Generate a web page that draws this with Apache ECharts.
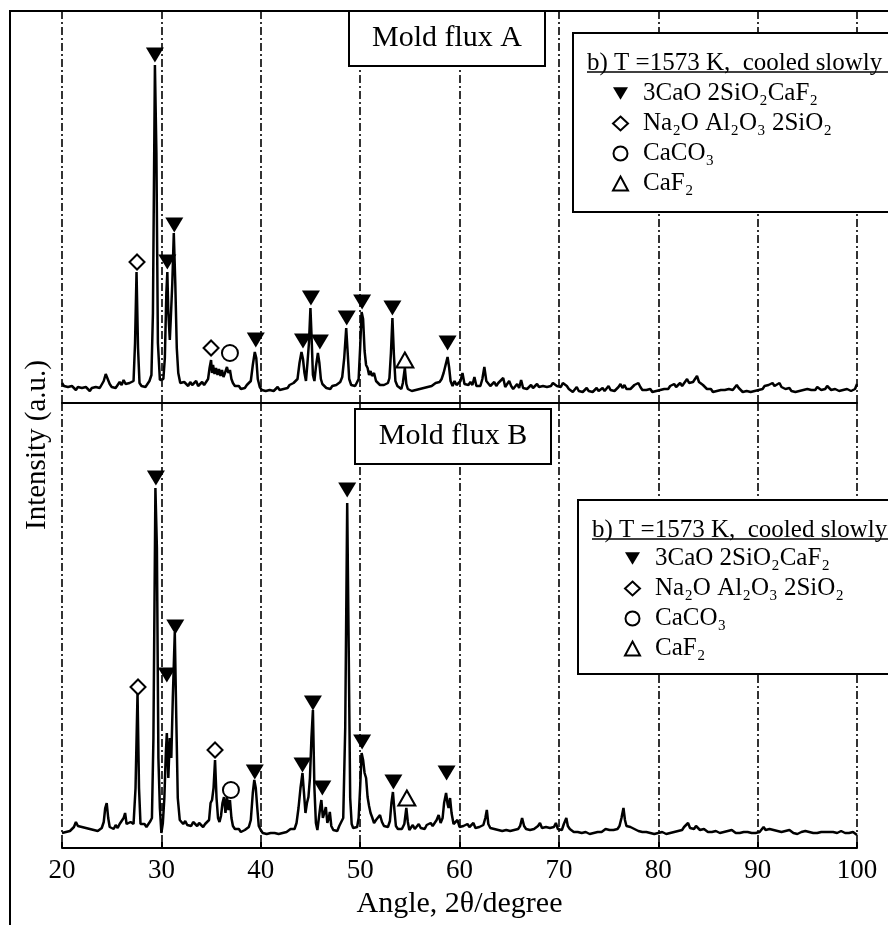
<!DOCTYPE html>
<html>
<head>
<meta charset="utf-8">
<title>XRD mold flux A / B</title>
<script src="https://cdn.jsdelivr.net/npm/echarts@6/dist/echarts.min.js"></script>
<style>
  html, body { margin: 0; padding: 0; background: #fff; }
  #chart { width: 888px; height: 925px; }
</style>
</head>
<body>
<div id="chart"></div>
<script>
  // x-axis ticks (2θ, degree)
  var angleMin = 20;
  var angleMax = 100;
  var angleStep = 10;

  // phase names used in both legends
  var phaseNames = ['3CaO 2SiO₂CaF₂', 'Na₂O Al₂O₃ 2SiO₂', 'CaCO₃', 'CaF₂'];

  // mold flux A pattern [2θ, intensity a.u.]
  var fluxA = [
    [20.0,20],[20.2,17],[20.4,15],[20.6,16],[20.8,14],[21.0,17],[21.2,15],[21.4,13],[21.6,16],[21.8,14],
    [22.0,15],[22.2,13],[22.4,16],[22.6,14],[22.8,12],[23.0,15],[23.2,13],[23.4,16],[23.6,14],[23.8,15],
    [24.0,17],[24.2,22],[24.4,29],[24.6,27],[24.8,19],[25.0,16],[25.2,18],[25.4,15],[25.6,17],[25.8,21],
    [26.0,18],[26.2,23],[26.4,19],[26.6,17],[26.8,20],[27.0,18],[27.2,22],[27.35,60],[27.5,131],[27.65,55],
    [27.8,20],[28.0,17],[28.2,19],[28.4,16],[28.6,18],[28.8,22],[29.0,28],[29.15,90],[29.35,338],[29.5,250],
    [29.65,60],[29.85,23],[30.05,22],[30.2,24],[30.35,45],[30.5,110],[30.6,131],[30.7,90],[30.85,63],[30.95,85],
    [31.1,120],[31.25,170],[31.4,120],[31.55,55],[31.7,30],[31.9,20],[32.1,18],[32.3,21],[32.5,19],[32.7,17],
    [32.9,21],[33.1,18],[33.3,20],[33.5,22],[33.7,17],[33.9,19],[34.1,21],[34.3,18],[34.5,20],[34.7,24],
    [34.85,35],[35.0,43],[35.1,30],[35.2,38],[35.35,29],[35.5,35],[35.65,28],[35.8,34],[35.95,27],[36.1,33],
    [36.25,26],[36.4,30],[36.6,36],[36.75,30],[36.9,33],[37.05,24],[37.2,20],[37.4,17],[37.6,15],[37.8,17],
    [38.0,14],[38.2,16],[38.4,15],[38.6,18],[38.8,17],[39.0,22],[39.2,38],[39.4,51],[39.55,45],[39.7,24],
    [39.9,16],[40.1,13],[40.3,15],[40.5,12],[40.7,14],[40.9,13],[41.1,15],[41.3,12],[41.5,14],[41.7,16],
    [41.9,13],[42.1,15],[42.3,14],[42.5,16],[42.7,15],[42.9,18],[43.1,17],[43.3,20],[43.5,19],[43.7,24],
    [43.9,40],[44.1,51],[44.25,44],[44.4,30],[44.55,22],[44.7,40],[44.85,60],[45.0,95],[45.1,70],[45.25,28],
    [45.4,22],[45.55,36],[45.75,50],[45.9,40],[46.05,24],[46.2,19],[46.4,17],[46.6,15],[46.8,16],[47.0,14],
    [47.2,17],[47.4,16],[47.6,18],[47.8,17],[48.0,21],[48.2,26],[48.4,45],[48.6,75],[48.75,50],[48.9,24],
    [49.1,18],[49.3,16],[49.5,17],[49.7,16],[49.85,24],[50.0,55],[50.15,91],[50.3,84],[50.45,52],[50.6,38],
    [50.75,35],[50.9,28],[51.05,32],[51.2,27],[51.4,30],[51.6,22],[51.8,21],[52.0,18],[52.2,16],[52.4,18],
    [52.6,17],[52.8,20],[52.95,25],[53.1,50],[53.25,85],[53.4,48],[53.55,22],[53.75,17],[53.95,15],[54.15,14],
    [54.3,20],[54.5,35],[54.65,19],[54.8,14],[55.0,13],[55.2,12],[55.4,14],[55.6,13],[55.8,15],[56.0,14],
    [56.2,16],[56.4,15],[56.6,17],[56.8,16],[57.0,18],[57.2,17],[57.4,18],[57.6,20],[57.8,19],[58.0,21],
    [58.2,24],[58.4,30],[58.6,38],[58.8,46],[58.95,36],[59.1,22],[59.3,17],[59.5,22],[59.7,18],[59.9,20],
    [60.1,22],[60.3,30],[60.5,19],[60.7,17],[60.9,18],[61.1,21],[61.3,18],[61.5,26],[61.7,17],[61.9,19],
    [62.1,17],[62.3,24],[62.5,36],[62.7,22],[62.9,20],[63.1,17],[63.3,19],[63.5,21],[63.7,17],[63.9,20],
    [64.1,18],[64.4,25],[64.6,16],[64.8,18],[65.0,22],[65.2,17],[65.4,14],[65.6,16],[65.8,19],[66.0,15],
    [66.2,23],[66.4,15],[66.6,17],[66.8,14],[67.0,16],[67.2,18],[67.4,15],[67.6,17],[67.8,19],[68.0,16],
    [68.2,18],[68.4,17],[68.6,19],[68.8,16],[69.0,18],[69.2,17],[69.4,20],[69.6,18],[69.8,17],[70.0,19],
    [70.2,16],[70.4,20],[70.6,22],[70.8,17],[71.0,14],[71.2,13],[71.4,11],[71.6,13],[71.8,16],[72.0,12],
    [72.2,14],[72.4,11],[72.6,13],[72.8,15],[73.0,12],[73.2,14],[73.4,11],[73.6,13],[73.8,15],[74.0,12],
    [74.2,13],[74.4,15],[74.6,12],[74.8,14],[75.0,17],[75.2,13],[75.4,15],[75.6,12],[75.8,14],[76.0,16],
    [76.2,19],[76.4,15],[76.6,18],[76.8,14],[77.0,16],[77.2,14],[77.4,16],[77.6,18],[77.8,17],[78.0,20],
    [78.2,16],[78.4,13],[78.6,11],[78.8,13],[79.0,12],[79.2,14],[79.4,11],[79.6,13],[79.8,12],[80.0,14],
    [80.2,13],[80.4,12],[80.6,14],[80.8,16],[81.0,14],[81.2,17],[81.4,15],[81.6,19],[81.8,16],[82.0,18],
    [82.2,20],[82.4,17],[82.6,19],[82.9,24],[83.1,20],[83.3,18],[83.5,21],[83.7,20],[83.9,27],[84.1,21],
    [84.3,23],[84.5,18],[84.7,16],[84.9,14],[85.1,12],[85.3,14],[85.5,11],[85.7,13],[85.9,12],[86.1,14],
    [86.3,13],[86.5,15],[86.7,13],[86.9,12],[87.1,14],[87.3,16],[87.5,13],[87.7,15],[87.9,18],[88.1,15],
    [88.3,13],[88.5,11],[88.7,13],[88.9,12],[89.1,14],[89.3,11],[89.5,13],[89.7,12],[89.9,14],[90.1,13],
    [90.3,15],[90.5,14],[90.7,17],[90.9,15],[91.1,18],[91.3,16],[91.5,20],[91.7,17],[91.9,19],[92.2,20],
    [92.4,16],[92.6,18],[92.8,14],[93.0,13],[93.2,15],[93.4,12],[93.6,13],[93.8,11],[94.0,13],[94.2,12],
    [94.4,11],[94.6,13],[94.8,12],[95.0,14],[95.2,12],[95.4,13],[95.6,15],[95.8,13],[96.0,16],[96.2,14],
    [96.4,13],[96.6,15],[96.8,14],[97.0,17],[97.2,15],[97.4,13],[97.6,12],[97.8,14],[98.0,13],[98.2,12],
    [98.4,14],[98.6,13],[98.8,15],[99.0,14],[99.2,13],[99.4,12],[99.6,11],[99.8,14],[100.0,19]
  ];

  // mold flux B pattern [2θ, intensity a.u.]
  var fluxB = [
    [20.0,15],[20.2,17],[20.4,16],[20.6,18],[20.8,17],[21.0,19],[21.2,21],[21.4,26],[21.6,22],[21.8,20],
    [22.0,21],[22.2,19],[22.4,20],[22.6,18],[22.8,19],[23.0,17],[23.2,18],[23.4,19],[23.6,17],[23.8,18],
    [24.0,20],[24.2,26],[24.35,40],[24.5,45],[24.65,30],[24.8,21],[25.0,22],[25.2,19],[25.4,23],[25.6,20],
    [25.8,24],[26.0,22],[26.2,30],[26.35,35],[26.5,24],[26.7,22],[26.9,26],[27.0,28],[27.2,24],[27.4,60],
    [27.6,155],[27.75,60],[27.9,24],[28.1,22],[28.3,24],[28.5,21],[28.7,23],[28.9,27],[29.05,30],[29.2,110],
    [29.4,360],[29.55,300],[29.7,90],[29.85,40],[30.0,15],[30.15,25],[30.3,50],[30.45,95],[30.55,115],[30.7,70],
    [30.85,110],[31.0,90],[31.15,150],[31.35,216],[31.5,130],[31.65,50],[31.85,28],[32.0,26],[32.2,24],[32.4,27],
    [32.6,23],[32.8,25],[33.0,22],[33.2,26],[33.4,24],[33.6,22],[33.8,25],[34.0,23],[34.2,21],[34.4,24],
    [34.6,22],[34.8,28],[34.95,45],[35.1,48],[35.25,60],[35.4,88],[35.55,50],[35.7,30],[35.85,26],[36.0,32],
    [36.15,45],[36.3,51],[36.45,35],[36.6,51],[36.75,38],[36.9,48],[37.05,30],[37.2,22],[37.4,19],[37.6,17],
    [37.8,19],[38.0,16],[38.2,15],[38.4,18],[38.6,17],[38.8,21],[39.0,28],[39.2,55],[39.35,68],[39.5,60],
    [39.65,40],[39.8,22],[40.0,18],[40.2,15],[40.4,16],[40.6,14],[40.8,16],[41.0,15],[41.2,17],[41.4,15],
    [41.6,16],[41.8,14],[42.0,16],[42.2,15],[42.4,17],[42.6,16],[42.8,18],[43.0,19],[43.2,21],[43.4,19],
    [43.6,25],[43.8,40],[44.0,60],[44.2,75],[44.35,55],[44.5,35],[44.65,45],[44.8,51],[44.95,70],[45.1,110],
    [45.25,138],[45.4,60],[45.55,25],[45.7,18],[45.85,30],[46.0,42],[46.1,48],[46.25,30],[46.4,35],[46.55,41],
    [46.7,25],[46.85,30],[46.95,36],[47.1,22],[47.3,18],[47.5,20],[47.7,17],[47.9,22],[48.1,20],[48.3,30],
    [48.5,120],[48.7,345],[48.85,200],[49.0,50],[49.15,24],[49.3,20],[49.5,18],[49.7,21],[49.85,30],[50.0,60],
    [50.15,95],[50.3,88],[50.45,75],[50.6,70],[50.75,51],[50.9,42],[51.05,35],[51.2,31],[51.4,25],[51.6,28],
    [51.8,30],[52.0,33],[52.2,26],[52.4,22],[52.6,20],[52.8,21],[53.0,27],[53.15,45],[53.3,56],[53.45,38],
    [53.6,22],[53.8,19],[54.0,17],[54.2,19],[54.45,24],[54.65,40],[54.8,26],[54.95,18],[55.1,20],[55.3,23],
    [55.5,19],[55.7,21],[55.9,24],[56.1,20],[56.3,22],[56.5,19],[56.7,23],[56.9,21],[57.1,25],[57.3,22],
    [57.5,24],[57.7,28],[57.9,33],[58.1,25],[58.3,30],[58.45,45],[58.65,55],[58.8,44],[58.9,40],[59.05,50],
    [59.2,35],[59.4,24],[59.6,22],[59.8,28],[60.0,21],[60.2,19],[60.4,22],[60.6,20],[60.8,24],[61.0,21],
    [61.2,19],[61.4,25],[61.6,20],[61.8,18],[62.0,21],[62.2,19],[62.4,23],[62.6,30],[62.75,38],[62.9,24],
    [63.1,20],[63.3,22],[63.5,19],[63.7,21],[63.9,18],[64.1,20],[64.3,17],[64.5,19],[64.7,18],[64.9,20],
    [65.1,17],[65.3,19],[65.5,18],[65.7,20],[65.9,19],[66.1,22],[66.3,30],[66.5,22],[66.7,19],[66.9,21],
    [67.1,18],[67.3,20],[67.5,19],[67.7,21],[67.9,22],[68.1,25],[68.3,20],[68.5,18],[68.7,21],[68.9,19],
    [69.1,20],[69.3,18],[69.5,21],[69.7,25],[69.9,19],[70.1,20],[70.3,18],[70.5,24],[70.75,30],[70.9,22],
    [71.1,19],[71.3,17],[71.5,16],[71.7,18],[71.9,16],[72.1,17],[72.3,15],[72.5,17],[72.7,16],[72.9,15],
    [73.1,14],[73.3,16],[73.5,15],[73.7,17],[73.9,16],[74.1,18],[74.3,16],[74.5,17],[74.7,19],[74.9,17],
    [75.1,18],[75.3,16],[75.5,18],[75.7,17],[75.9,19],[76.1,22],[76.3,30],[76.5,40],[76.65,28],[76.8,22],
    [77.0,24],[77.2,21],[77.4,22],[77.6,19],[77.8,18],[78.0,17],[78.2,18],[78.4,16],[78.6,15],[78.8,16],
    [79.0,14],[79.2,15],[79.4,13],[79.6,14],[79.8,13],[80.0,15],[80.2,14],[80.4,16],[80.6,15],[80.8,14],
    [81.0,16],[81.2,15],[81.4,17],[81.6,16],[81.8,18],[82.0,17],[82.2,19],[82.4,18],[82.6,21],[82.8,23],
    [83.0,25],[83.2,20],[83.4,21],[83.6,19],[83.8,22],[84.0,20],[84.2,18],[84.4,17],[84.6,19],[84.8,17],
    [85.0,16],[85.2,18],[85.4,16],[85.6,15],[85.8,17],[86.0,16],[86.2,15],[86.4,17],[86.6,16],[86.8,15],
    [87.0,17],[87.2,16],[87.4,18],[87.6,16],[87.8,15],[88.0,16],[88.2,15],[88.4,17],[88.6,16],[88.8,15],
    [89.0,16],[89.2,17],[89.4,15],[89.6,16],[89.8,15],[90.0,17],[90.2,16],[90.4,18],[90.6,21],[90.8,18],
    [91.0,17],[91.2,19],[91.4,17],[91.6,18],[91.8,16],[92.0,17],[92.2,15],[92.4,16],[92.6,15],[92.8,17],
    [93.0,16],[93.2,18],[93.4,16],[93.6,15],[93.8,16],[94.0,14],[94.2,15],[94.4,16],[94.6,15],[94.8,17],
    [95.0,15],[95.2,16],[95.4,14],[95.6,15],[95.8,16],[96.0,15],[96.2,17],[96.4,16],[96.6,15],[96.8,16],
    [97.0,17],[97.2,16],[97.4,18],[97.6,16],[97.8,17],[98.0,15],[98.2,16],[98.4,17],[98.6,16],[98.8,15],
    [99.0,14],[99.2,15],[99.4,14],[99.6,16],[99.8,14],[100.0,13]
  ];

  // phase marks for flux A [2θ, marker height]
  var markA_silicate = [[29.35,348],[30.6,141],[31.3,178],[39.5,63],[44.25,62],[45.05,105],[45.95,61],[48.65,85],[50.2,101],[53.25,95],[58.8,60]];
  var markA_albite = [[27.55,141],[35.0,55]];
  var markA_calcite = [[36.9,50]];
  var markA_fluorite = [[54.5,43]];

  // phase marks for flux B
  var markB_silicate = [[29.45,370],[30.55,173],[31.4,221],[39.4,76],[44.2,83],[45.25,145],[46.2,60],[48.7,358],[50.2,106],[53.35,66],[58.7,75]];
  var markB_albite = [[27.65,161],[35.4,98]];
  var markB_calcite = [[37.0,58]];
  var markB_fluorite = [[54.7,50]];

  var serif = "'Liberation Serif', 'DejaVu Serif', serif";
  var downTri = 'path://M0,0L18,0L9,15Z';

  var chart = echarts.init(document.getElementById('chart'));

  function xAxisFor (idx, bottom) {
    return {
      type: 'value',
      gridIndex: idx,
      min: angleMin,
      max: angleMax,
      interval: angleStep,
      axisLine: { show: true, onZero: false, lineStyle: { color: '#000', width: 2 } },
      axisTick: { show: bottom, inside: true, length: 6, lineStyle: { color: '#000', width: 2 } },
      axisLabel: {
        show: bottom,
        margin: 9,
        color: '#000',
        fontFamily: serif,
        fontSize: 27
      },
      name: bottom ? 'Angle, 2θ/degree' : '',
      nameLocation: 'middle',
      nameGap: 41,
      nameTextStyle: { color: '#000', fontFamily: serif, fontSize: 30 },
      splitLine: {
        show: true,
        lineStyle: { color: '#000', width: 1.6, type: [8, 3, 2, 3] }
      }
    };
  }

  function markSeries (name, idx, data, symbol, size, hollow) {
    return {
      name: name,
      type: 'scatter',
      xAxisIndex: idx,
      yAxisIndex: idx,
      data: data,
      symbol: symbol,
      symbolSize: size,
      z: 4,
      itemStyle: hollow
        ? { color: '#fff', borderColor: '#000', borderWidth: 2, opacity: 1 }
        : { color: '#000', opacity: 1 }
    };
  }

  function patternSeries (idx, data) {
    return {
      type: 'line',
      xAxisIndex: idx,
      yAxisIndex: idx,
      data: data,
      showSymbol: false,
      symbol: 'none',
      z: 3,
      lineStyle: { color: '#000', width: 2.5 }
    };
  }

  function legendAt (top, left) {
    return {
      orient: 'vertical',
      left: left,
      top: top,
      z: 10,
      padding: 0,
      selectedMode: false,
      itemWidth: 15,
      itemHeight: 14,
      itemGap: 5,
      textStyle: { color: '#000', fontFamily: serif, fontSize: 25, lineHeight: 25, padding: [0, 0, 0, 10] },
      data: phaseNames
    };
  }

  // boxed labels, legend frames, frame
  function boxText (x, y, w, h, label) {
    return [
      { type: 'rect', z: 5, shape: { x: x, y: y, width: w, height: h }, style: { fill: '#fff', stroke: '#000', lineWidth: 2 } },
      { type: 'text', z: 6, x: x + w / 2, y: y + h / 2, style: { text: label, fill: '#000', font: '30px ' + serif, align: 'center', verticalAlign: 'middle' } }
    ];
  }

  function legendFrame (x, y, w, h, titleY) {
    return [
      { type: 'rect', z: 5, shape: { x: x, y: y, width: w, height: h }, style: { fill: '#fff', stroke: '#000', lineWidth: 2 } },
      { type: 'text', z: 6, x: x + 14, y: titleY, style: { text: 'b) T =1573 K,  cooled slowly', fill: '#000', font: '25px ' + serif, verticalAlign: 'middle' } },
      { type: 'line', z: 6, shape: { x1: x + 14, y1: titleY + 9, x2: 900, y2: titleY + 9 }, style: { stroke: '#000', lineWidth: 1.5 } }
    ];
  }

  var graphics = [
    { type: 'rect', z: 1, shape: { x: 10, y: 11, width: 900, height: 950 }, style: { fill: 'none', stroke: '#000', lineWidth: 2 } },
    { type: 'text', z: 6, x: 37, y: 445, rotation: Math.PI / 2, style: { text: 'Intensity (a.u.)', fill: '#000', font: '29px ' + serif, align: 'center', verticalAlign: 'middle' } }
  ]
    .concat(boxText(349, 11, 196, 55, 'Mold flux A'))
    .concat(boxText(355, 409, 196, 55, 'Mold flux B'))
    .concat(legendFrame(573, 33, 330, 179, 63))
    .concat(legendFrame(578, 500, 330, 174, 530));

  chart.setOption({
    animation: false,
    backgroundColor: '#fff',
    grid: [
      { left: 62, right: 31, top: 11, height: 392 },
      { left: 62, right: 31, top: 403, height: 445 }
    ],
    xAxis: [xAxisFor(0, false), xAxisFor(1, true)],
    yAxis: [
      { type: 'value', gridIndex: 0, min: 0, max: 392, show: false },
      { type: 'value', gridIndex: 1, min: 0, max: 445, show: false }
    ],
    legend: [legendAt(81, 612), legendAt(546, 624)],
    graphic: graphics,
    series: [
      patternSeries(0, fluxA),
      patternSeries(1, fluxB),
      markSeries(phaseNames[0], 0, markA_silicate, downTri, [18, 15], false),
      markSeries(phaseNames[1], 0, markA_albite, 'diamond', [15, 15], true),
      markSeries(phaseNames[2], 0, markA_calcite, 'circle', [16, 16], true),
      markSeries(phaseNames[3], 0, markA_fluorite, 'triangle', [17, 15], true),
      markSeries(phaseNames[0], 1, markB_silicate, downTri, [18, 15], false),
      markSeries(phaseNames[1], 1, markB_albite, 'diamond', [15, 15], true),
      markSeries(phaseNames[2], 1, markB_calcite, 'circle', [16, 16], true),
      markSeries(phaseNames[3], 1, markB_fluorite, 'triangle', [17, 15], true)
    ]
  });
</script>
</body>
</html>
